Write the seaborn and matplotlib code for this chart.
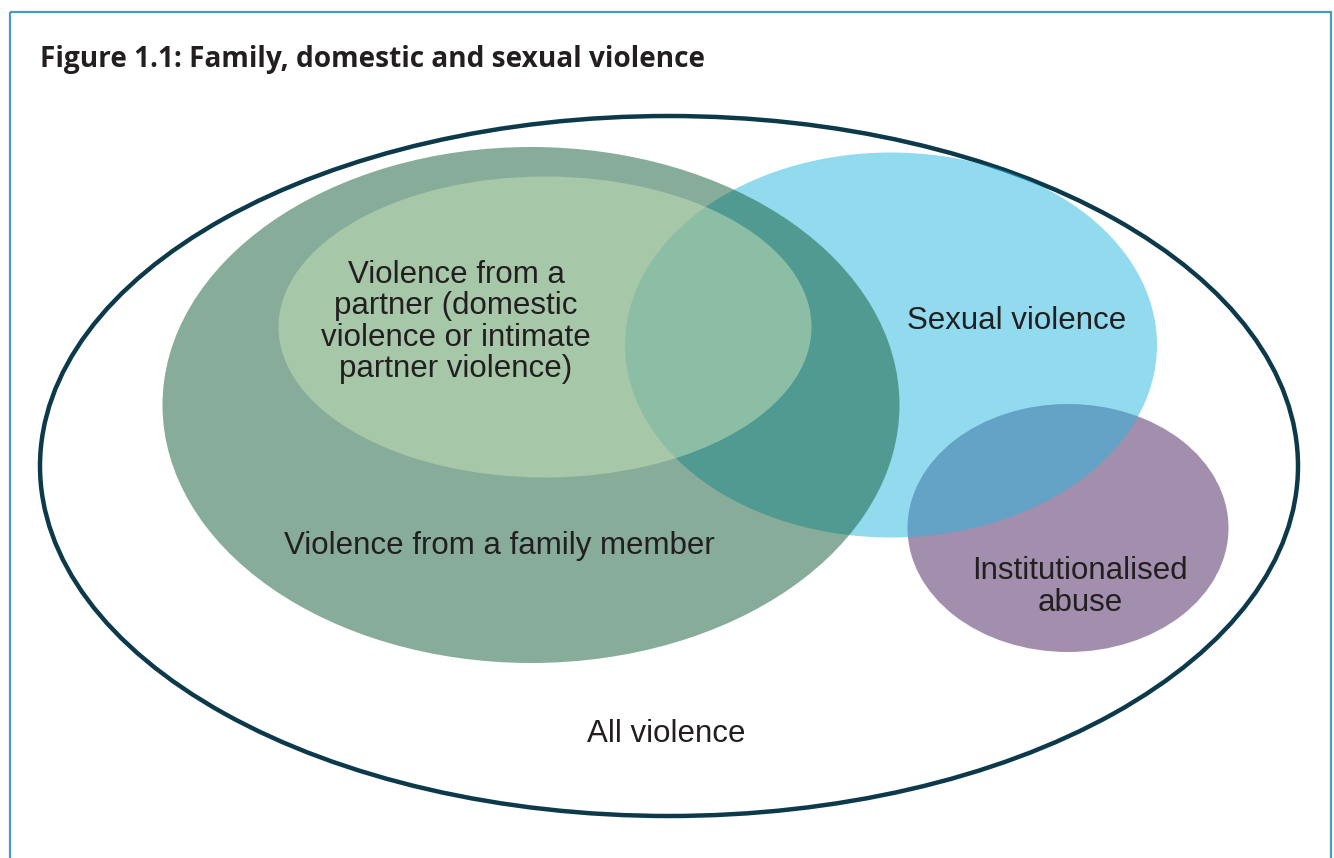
import matplotlib.pyplot as plt
import seaborn as sns
from matplotlib.patches import Ellipse, Rectangle

# ellipse layout (pixel units, y down)
sets = ["All violence", "Institutionalised abuse", "Sexual violence",
        "Violence from a family member", "Violence from a partner"]
centre_x = [669, 1068, 891, 531, 545]
centre_y = [466, 528, 345, 405, 327]
widths = [1258, 321, 532, 737, 533]
heights = [700, 248, 385, 516, 301]

# labels and where they sit
labels = ["All violence", "Institutionalised\nabuse", "Sexual violence",
          "Violence from a family member",
          "Violence from a\npartner (domestic\nviolence or intimate\npartner violence)"]
label_x = [666, 1080, 1017, 499, 456]
label_y = [734, 587, 321, 546, 322]

fills = [None, "#471f5d", "#27b7df", "#115b35", "#c8e3ba"]

sns.set_theme(style="white")
plt.rcParams["font.family"] = ["Liberation Sans", "DejaVu Sans"]

fig = plt.figure(figsize=(13.34, 8.58), dpi=100)
ax = fig.add_axes([0, 0, 1, 1])
ax.set_xlim(0, 1334)
ax.set_ylim(858, 0)
ax.set_axis_off()

# figure frame, open at the bottom
ax.add_patch(Rectangle((10, 12), 1321, 900, fill=False, edgecolor="#4a9bb5", lw=1.6))

ax.text(40, 60, "Figure 1.1: Family, domestic and sexual violence",
        fontsize=20.2, fontweight="bold", family=["Open Sans", "DejaVu Sans"],
        color="#231f20", va="center", ha="left")

for name, cx, cy, w, h, fc in zip(sets, centre_x, centre_y, widths, heights, fills):
    if fc is None:
        ax.add_patch(Ellipse((cx, cy), w, h, fill=False, edgecolor="#0d3a4a", lw=3.2))
    else:
        ax.add_patch(Ellipse((cx, cy), w, h, facecolor=fc, edgecolor="none", alpha=0.5))

for lab, lx, ly in zip(labels, label_x, label_y):
    ax.text(lx, ly, lab, fontsize=22.5, color="#231f20", ha="center", va="center",
            linespacing=1.06)

fig.savefig("out.png", dpi=100, facecolor="white")
